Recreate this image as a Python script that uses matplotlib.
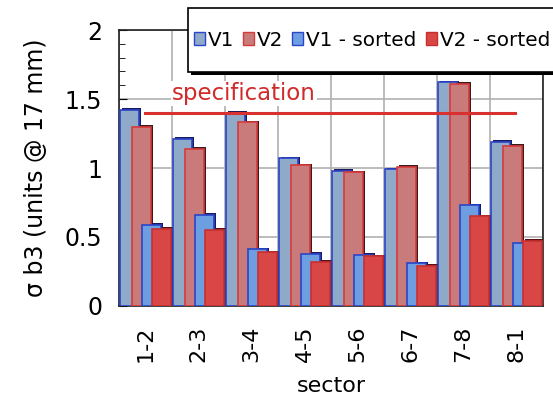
import numpy as np
import matplotlib.pyplot as plt
from matplotlib.patches import Patch, Rectangle

sectors = ["1-2", "2-3", "3-4", "4-5", "5-6", "6-7", "7-8", "8-1"]
v1 = [1.42, 1.21, 1.40, 1.07, 0.98, 0.99, 1.62, 1.19]
v2 = [1.30, 1.14, 1.33, 1.02, 0.97, 1.01, 1.61, 1.16]
v1_sorted = [0.59, 0.66, 0.41, 0.38, 0.37, 0.31, 0.73, 0.46]
v2_sorted = [0.56, 0.55, 0.39, 0.32, 0.36, 0.29, 0.65, 0.47]
spec = 1.4

series = [
    ("V1", v1, "#8fa9c9", "#2a45c8", "#1a1a60"),
    ("V2", v2, "#c97b7b", "#d83a3a", "#3a1a1a"),
    ("V1 - sorted", v1_sorted, "#6d9ee2", "#2a45c8", "#1a1a60"),
    ("V2 - sorted", v2_sorted, "#d94646", "#c83030", "#5a1010"),
]
lefts = [0.02, 0.24, 0.44, 0.62]
width = 0.36

fig = plt.figure(figsize=(5.53, 4.01), dpi=100)
ax = fig.add_axes([0.215, 0.237, 0.767, 0.688])

x = np.arange(len(sectors))
for (name, vals, fc, ec, sh), off in zip(series, lefts):
    # dark side face to give the old 3D look
    ax.bar(x - 0.5 + off + 0.035, np.array(vals) + 0.012, width=width,
           align="edge", color=sh, zorder=2)
    ax.bar(x - 0.5 + off, vals, width=width, align="edge",
           color=fc, edgecolor=ec, linewidth=1.2, zorder=3)

ax.plot([-0.01, 6.97], [spec, spec], color="#d93030", lw=2.2, zorder=4)
ax.text(1.86, 1.54, "specification", color="#d02a2a", fontsize=16.5,
        ha="center", va="center", zorder=5,
        bbox=dict(facecolor="white", edgecolor="none", pad=1))

ax.set_xlim(-0.5, 7.5)
ax.set_ylim(0, 2)
ax.set_yticks([0, 0.5, 1, 1.5, 2])
ax.set_yticklabels(["0", "0.5", "1", "1.5", "2"])
ax.set_yticks(np.arange(0, 2.01, 0.1), minor=True)
ax.set_xticks(x)
ax.set_xticklabels(sectors, rotation=90)
ax.set_xticks(np.arange(-0.5, 7.6, 1), minor=True)
ax.tick_params(axis="y", which="both", direction="in", labelsize=17, right=False, pad=12)
ax.tick_params(axis="y", which="major", length=6)
ax.tick_params(axis="y", which="minor", length=4)
ax.tick_params(axis="x", which="both", length=0, labelsize=16, pad=14)
ax.grid(True, axis="y", which="major", color="#b0b0b0", lw=1.2, zorder=0)
ax.grid(True, axis="x", which="minor", color="#b0b0b0", lw=1.2, zorder=0)
ax.set_axisbelow(True)
for s in ax.spines.values():
    s.set_color("#202020")
    s.set_linewidth(1.2)

ax.set_ylabel("σ b3 (units @ 17 mm)", fontsize=17, labelpad=12)
ax.set_xlabel("sector", fontsize=16, labelpad=10)

# legend box that runs off the right edge, with a drop shadow
fig.patches.append(Rectangle((0.345, 0.812), 0.7, 0.16, transform=fig.transFigure,
                             facecolor="black", edgecolor="none", zorder=9))
fig.patches.append(Rectangle((0.340, 0.820), 0.7, 0.16, transform=fig.transFigure,
                             facecolor="white", edgecolor="black", lw=1.2, zorder=10))
handles = [Patch(facecolor=fc, edgecolor=ec, label=name) for name, _, fc, ec, _ in series]
leg = fig.legend(handles=handles, loc="center left", bbox_to_anchor=(0.350, 0.900),
                 ncol=4, fontsize=14.4, handlelength=0.55, handleheight=0.55,
                 handletextpad=0.15, columnspacing=0.45, borderpad=0,
                 borderaxespad=0, frameon=False)
leg.set_zorder(11)

fig.savefig("out.png", dpi=100)
